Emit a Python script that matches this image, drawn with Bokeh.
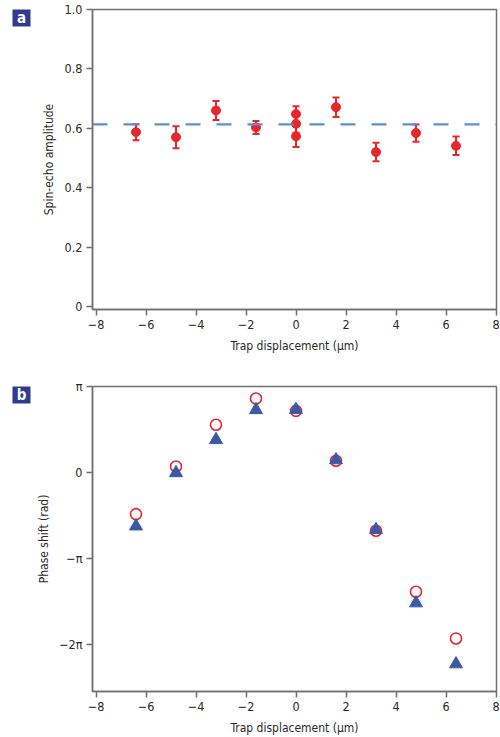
import math
from bokeh.plotting import figure
from bokeh.models import (ColumnDataSource, Whisker, Span, FixedTicker, Range1d,
                          Label, TeeHead)
from bokeh.layouts import column, row
from bokeh.embed import file_html
from bokeh.resources import INLINE

# ---------------- data ----------------
# Panel a: spin-echo amplitude vs trap displacement (um)
disp_a = [-6.4, -4.8, -3.2, -1.6, 0.0, 0.0, 0.0, 1.6, 3.2, 4.8, 6.4]
amp_a = [0.587, 0.570, 0.660, 0.603, 0.648, 0.615, 0.573, 0.671, 0.520, 0.584, 0.541]
err_a = [0.027, 0.037, 0.032, 0.022, 0.026, 0.030, 0.036, 0.033, 0.031, 0.029, 0.031]
mean_amp = 0.613

# Panel b: phase shift (in units of pi) vs trap displacement (um)
disp_b = [-6.4, -4.8, -3.2, -1.6, 0.0, 1.6, 3.2, 4.8, 6.4]
phase_circle_pi = [-0.484, 0.070, 0.555, 0.860, 0.717, 0.136, -0.678, -1.387, -1.930]
phase_tri_pi = [-0.624, -0.005, 0.380, 0.728, 0.730, 0.145, -0.666, -1.519, -2.228]

x_ticks = [-8, -6, -4, -2, 0, 2, 4, 6, 8]
x_tick_labels = ["\u22128", "\u22126", "\u22124", "\u22122", "0", "2", "4", "6", "8"]
y_ticks_a = [0, 0.2, 0.4, 0.6, 0.8, 1.0]
y_tick_labels_a = ["0", "0.2", "0.4", "0.6", "0.8", "1.0"]
y_ticks_b_pi = [-2, -1, 0, 1]
y_tick_labels_b = ["\u22122\u03c0", "\u2212\u03c0", "0", "\u03c0"]

x_label = "Trap displacement (\u03bcm)"
y_label_a = "Spin-echo amplitude"
y_label_b = "Phase shift (rad)"

# ---------------- style ----------------
FONT = "DejaVu Sans Condensed"
AXIS_COL = "#707070"
TEXT_COL = "#2a2a2a"
RED = "#e8262c"
BLUE_TRI = "#3a5aa6"
BLUE_DASH = "#5a8fd4"
BOX_COL = "#2f3c91"

TAG_W = 32      # width of the narrow strip that holds the panel letter
FRAME_W = 404
X_RANGE = (-8.14, 8.02)


def style(p, yticks, ylabels, ylabel):
    p.xaxis.ticker = FixedTicker(ticks=x_ticks)
    p.xaxis.major_label_overrides = {t: l for t, l in zip(x_ticks, x_tick_labels)}
    p.yaxis.ticker = FixedTicker(ticks=yticks)
    p.yaxis.major_label_overrides = {t: l for t, l in zip(yticks, ylabels)}
    p.xaxis.axis_label = x_label
    p.yaxis.axis_label = ylabel
    for ax in (p.xaxis, p.yaxis):
        ax.axis_line_color = AXIS_COL
        ax.axis_line_width = 1.5
        ax.major_tick_line_color = AXIS_COL
        ax.major_tick_line_width = 1.5
        ax.major_tick_out = 6
        ax.major_tick_in = 0
        ax.minor_tick_line_color = None
        ax.major_label_text_font = FONT
        ax.major_label_text_font_size = "12.5px"
        ax.major_label_text_color = TEXT_COL
        ax.axis_label_text_font = FONT
        ax.axis_label_text_font_size = "12px"
        ax.axis_label_text_font_style = "normal"
        ax.axis_label_text_color = TEXT_COL
    p.xaxis.major_label_standoff = 4
    p.xaxis.axis_label_standoff = 7
    p.yaxis.major_label_standoff = 4
    p.yaxis.axis_label_standoff = 6
    p.xgrid.grid_line_color = None
    p.ygrid.grid_line_color = None
    p.outline_line_color = AXIS_COL
    p.outline_line_width = 1.5
    p.background_fill_color = "white"
    p.border_fill_color = "white"


def tag_figure(letter, top, total_height):
    """A narrow figure whose (filled) frame is the panel-letter box."""
    t = figure(title=None, frame_width=18, frame_height=17, min_border_left=12,
               min_border_right=TAG_W - 30, min_border_top=top,
               min_border_bottom=total_height - top - 17,
               x_range=Range1d(0, 1), y_range=Range1d(0, 1),
               x_axis_type=None, y_axis_type=None,
               output_backend="svg", toolbar_location=None)
    t.background_fill_color = BOX_COL
    t.border_fill_color = "white"
    t.outline_line_color = None
    t.xgrid.grid_line_color = None
    t.ygrid.grid_line_color = None
    t.add_layout(Label(x=0.5, y=0.5, text=letter, text_align="center",
                       text_baseline="middle", text_font=FONT,
                       text_font_size="15px", text_font_style="bold",
                       text_color="white"))
    return t


# ---------------- panel a ----------------
HA = 9 + 300 + 69
pa = figure(title=None, frame_width=FRAME_W, frame_height=300,
            x_range=Range1d(*X_RANGE), y_range=Range1d(-0.0101, 1.0),
            min_border_left=92 - TAG_W, min_border_right=4, min_border_top=9,
            min_border_bottom=69, output_backend="svg", toolbar_location=None)
style(pa, y_ticks_a, y_tick_labels_a, y_label_a)

pa.add_layout(Span(location=mean_amp, dimension="width", line_color=BLUE_DASH,
                   line_width=2.2, line_dash="15 16"))

src_a = ColumnDataSource(dict(
    x=disp_a, y=amp_a,
    lo=[a - e for a, e in zip(amp_a, err_a)],
    hi=[a + e for a, e in zip(amp_a, err_a)]))
pa.add_layout(Whisker(source=src_a, base="x", lower="lo", upper="hi",
                      line_color=RED, line_width=2,
                      lower_head=TeeHead(size=7, line_color=RED, line_width=2),
                      upper_head=TeeHead(size=7, line_color=RED, line_width=2)))
pa.scatter("x", "y", source=src_a, size=9, color=RED, marker="circle")
tag_a = tag_figure("a", 1, HA)

# ---------------- panel b ----------------
HB = 8 + 305 + 46
pb = figure(title=None, frame_width=FRAME_W, frame_height=305,
            x_range=Range1d(*X_RANGE),
            y_range=Range1d(-2.547 * math.pi, math.pi),
            min_border_left=92 - TAG_W, min_border_right=4, min_border_top=8,
            min_border_bottom=46, output_backend="svg", toolbar_location=None)
yt_b = [v * math.pi for v in y_ticks_b_pi]
style(pb, yt_b, y_tick_labels_b, y_label_b)
pb.yaxis.axis_label_standoff = 5

src_b = ColumnDataSource(dict(
    x=disp_b,
    yc=[v * math.pi for v in phase_circle_pi],
    yt=[v * math.pi for v in phase_tri_pi]))
pb.scatter("x", "yc", source=src_b, size=11, marker="circle",
           fill_color=None, line_color=RED, line_width=1.6)
pb.scatter("x", "yt", source=src_b, size=13, marker="triangle",
           fill_color=BLUE_TRI, line_color=BLUE_TRI, line_width=1)
tag_b = tag_figure("b", 2, HB)

layout = column(row(tag_a, pa, spacing=0), row(tag_b, pb, spacing=0), spacing=0)
open("out.html", "w").write(file_html(layout, INLINE))
